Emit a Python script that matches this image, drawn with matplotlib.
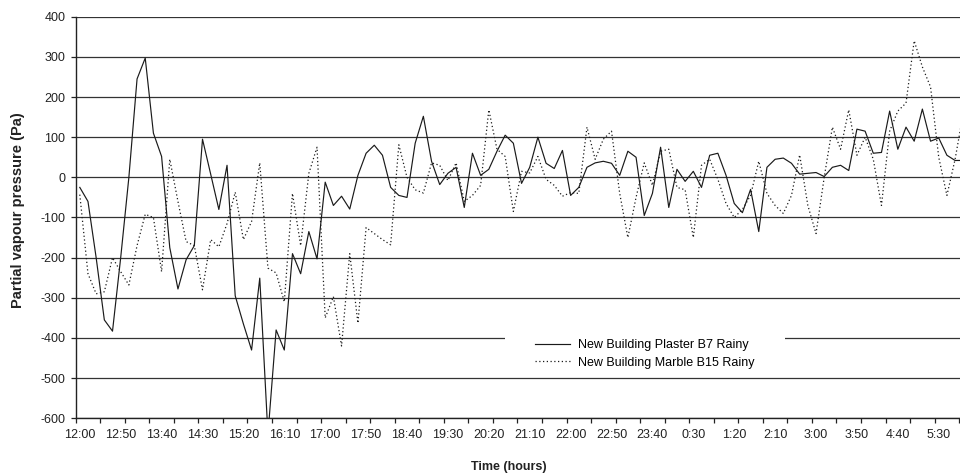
import numpy as np
import matplotlib
matplotlib.use("Agg")
import matplotlib.pyplot as plt
from matplotlib.patches import Rectangle

plt.rcParams['font.family'] = ['Liberation Sans', 'DejaVu Sans']
plt.rcParams['axes.unicode_minus'] = False

# readings every 10 minutes, 12:00 -> 6:00
plaster_b7 = [
    -25, -60, -200, -355, -383, -200, 0, 245, 297, 110,
    52, -175, -278, -205, -170, 95, 8, -80, 30, -295,
    -365, -430, -251, -640, -380, -430, -190, -240, -135, -203,
    -12, -70, -47, -79, 5, 60, 80, 55, -25, -45,
    -50, 85, 152, 40, -18, 10, 25, -75, 60, 5,
    20, 65, 105, 85, -15, 25, 100, 35, 22, 67,
    -45, -25, 25, 36, 40, 35, 5, 65, 50, -95,
    -40, 75, -75, 20, -10, 15, -25, 55, 60, 5,
    -65, -88, -30, -135, 25, 45, 48, 35, 8, 10,
    12, 2, 25, 30, 17, 120, 115, 60, 62, 165,
    70, 125, 90, 170, 90, 98, 55, 42, 42,
]
marble_b15 = [
    -43, -240, -290, -285, -200, -235, -268, -170, -92, -100,
    -235, 45, -60, -160, -170, -280, -155, -173, -115, -37,
    -155, -110, 36, -226, -238, -310, -40, -170, 10, 75,
    -350, -297, -420, -190, -363, -125, -140, -155, -168, 81,
    0, -31, -39, 36, 30, -8, 36, -60, -45, -20,
    168, 70, 52, -85, 15, 11, 52, -5, -20, -47,
    -38, -40, 125, 45, 95, 115, -40, -150, -50, 36,
    -20, 65, 70, -25, -31, -150, 30, 45, -5, -65,
    -100, -80, -45, 40, -40, -70, -90, -45, 56, -70,
    -140, 0, 125, 70, 168, 55, 100, 45, -70, 115,
    165, 185, 340, 275, 225, 50, -45, 45, 160,
]
time_labels = ["12:00", "12:50", "13:40", "14:30", "15:20", "16:10", "17:00",
               "17:50", "18:40", "19:30", "20:20", "21:10", "22:00", "22:50",
               "23:40", "0:30", "1:20", "2:10", "3:00", "3:50", "4:40", "5:30"]
series_names = ["New Building Plaster B7 Rainy", "New Building Marble B15 Rainy"]

W, H = 960, 476
fig = plt.figure(figsize=(W / 100, H / 100), dpi=100)
ax = fig.add_axes([75.7 / W, 57.7 / H, 1 - 75.7 / W, 401.6 / H])

x = np.arange(len(plaster_b7))
ax.plot(x, plaster_b7, color='#1a1a1a', lw=0.85, zorder=3,
        label=series_names[0])
ax.plot(x, marble_b15, color='#1a1a1a', lw=0.9, ls=(0, (1, 2)), zorder=3,
        label=series_names[1])

ax.set_xlim(-0.5, 107.6)
ax.set_ylim(-600, 400)

ax.set_yticks(np.arange(-600, 401, 100))
ax.grid(axis='y', color='#333333', lw=0.9)
ax.set_axisbelow(True)

ax.set_xticks(np.arange(0, 106, 5))
ax.set_xticklabels(time_labels)
ax.set_xticks(np.arange(-0.5, 108, 3), minor=True)
ax.tick_params(axis='x', which='major', length=0, pad=8, labelsize=9,
               colors='#222222')
ax.tick_params(axis='x', which='minor', length=3.6, width=0.9, color='#222222')
ax.tick_params(axis='y', length=3.3, width=0.9, pad=4, labelsize=9,
               colors='#222222')

for s in ['top', 'right']:
    ax.spines[s].set_visible(False)
for s in ['left', 'bottom']:
    ax.spines[s].set_color('#222222')
    ax.spines[s].set_linewidth(1.0)

# white block behind the legend
ax.add_patch(Rectangle((505 / W, 1 - 372 / H), 280 / W, 44 / H,
                       transform=fig.transFigure, facecolor='white',
                       edgecolor='none', zorder=1.5, clip_on=False))
ax.legend(loc='center left', bbox_to_anchor=(535 / W, 1 - 354 / H),
          bbox_transform=fig.transFigure, frameon=False, borderpad=0,
          borderaxespad=0, handlelength=2.8, handletextpad=0.6,
          labelspacing=0.45, fontsize=9)

fig.text(18 / W, 1 - 210 / H, "Partial vapour pressure (Pa)", rotation=90,
         ha='center', va='center', fontsize=10.5, fontweight='bold',
         color='#222222')
fig.text(509 / W, 1 - 467 / H, "Time (hours)", ha='center', va='center',
         fontsize=9, fontweight='bold', color='#222222')

fig.savefig("out.png", dpi=100)
